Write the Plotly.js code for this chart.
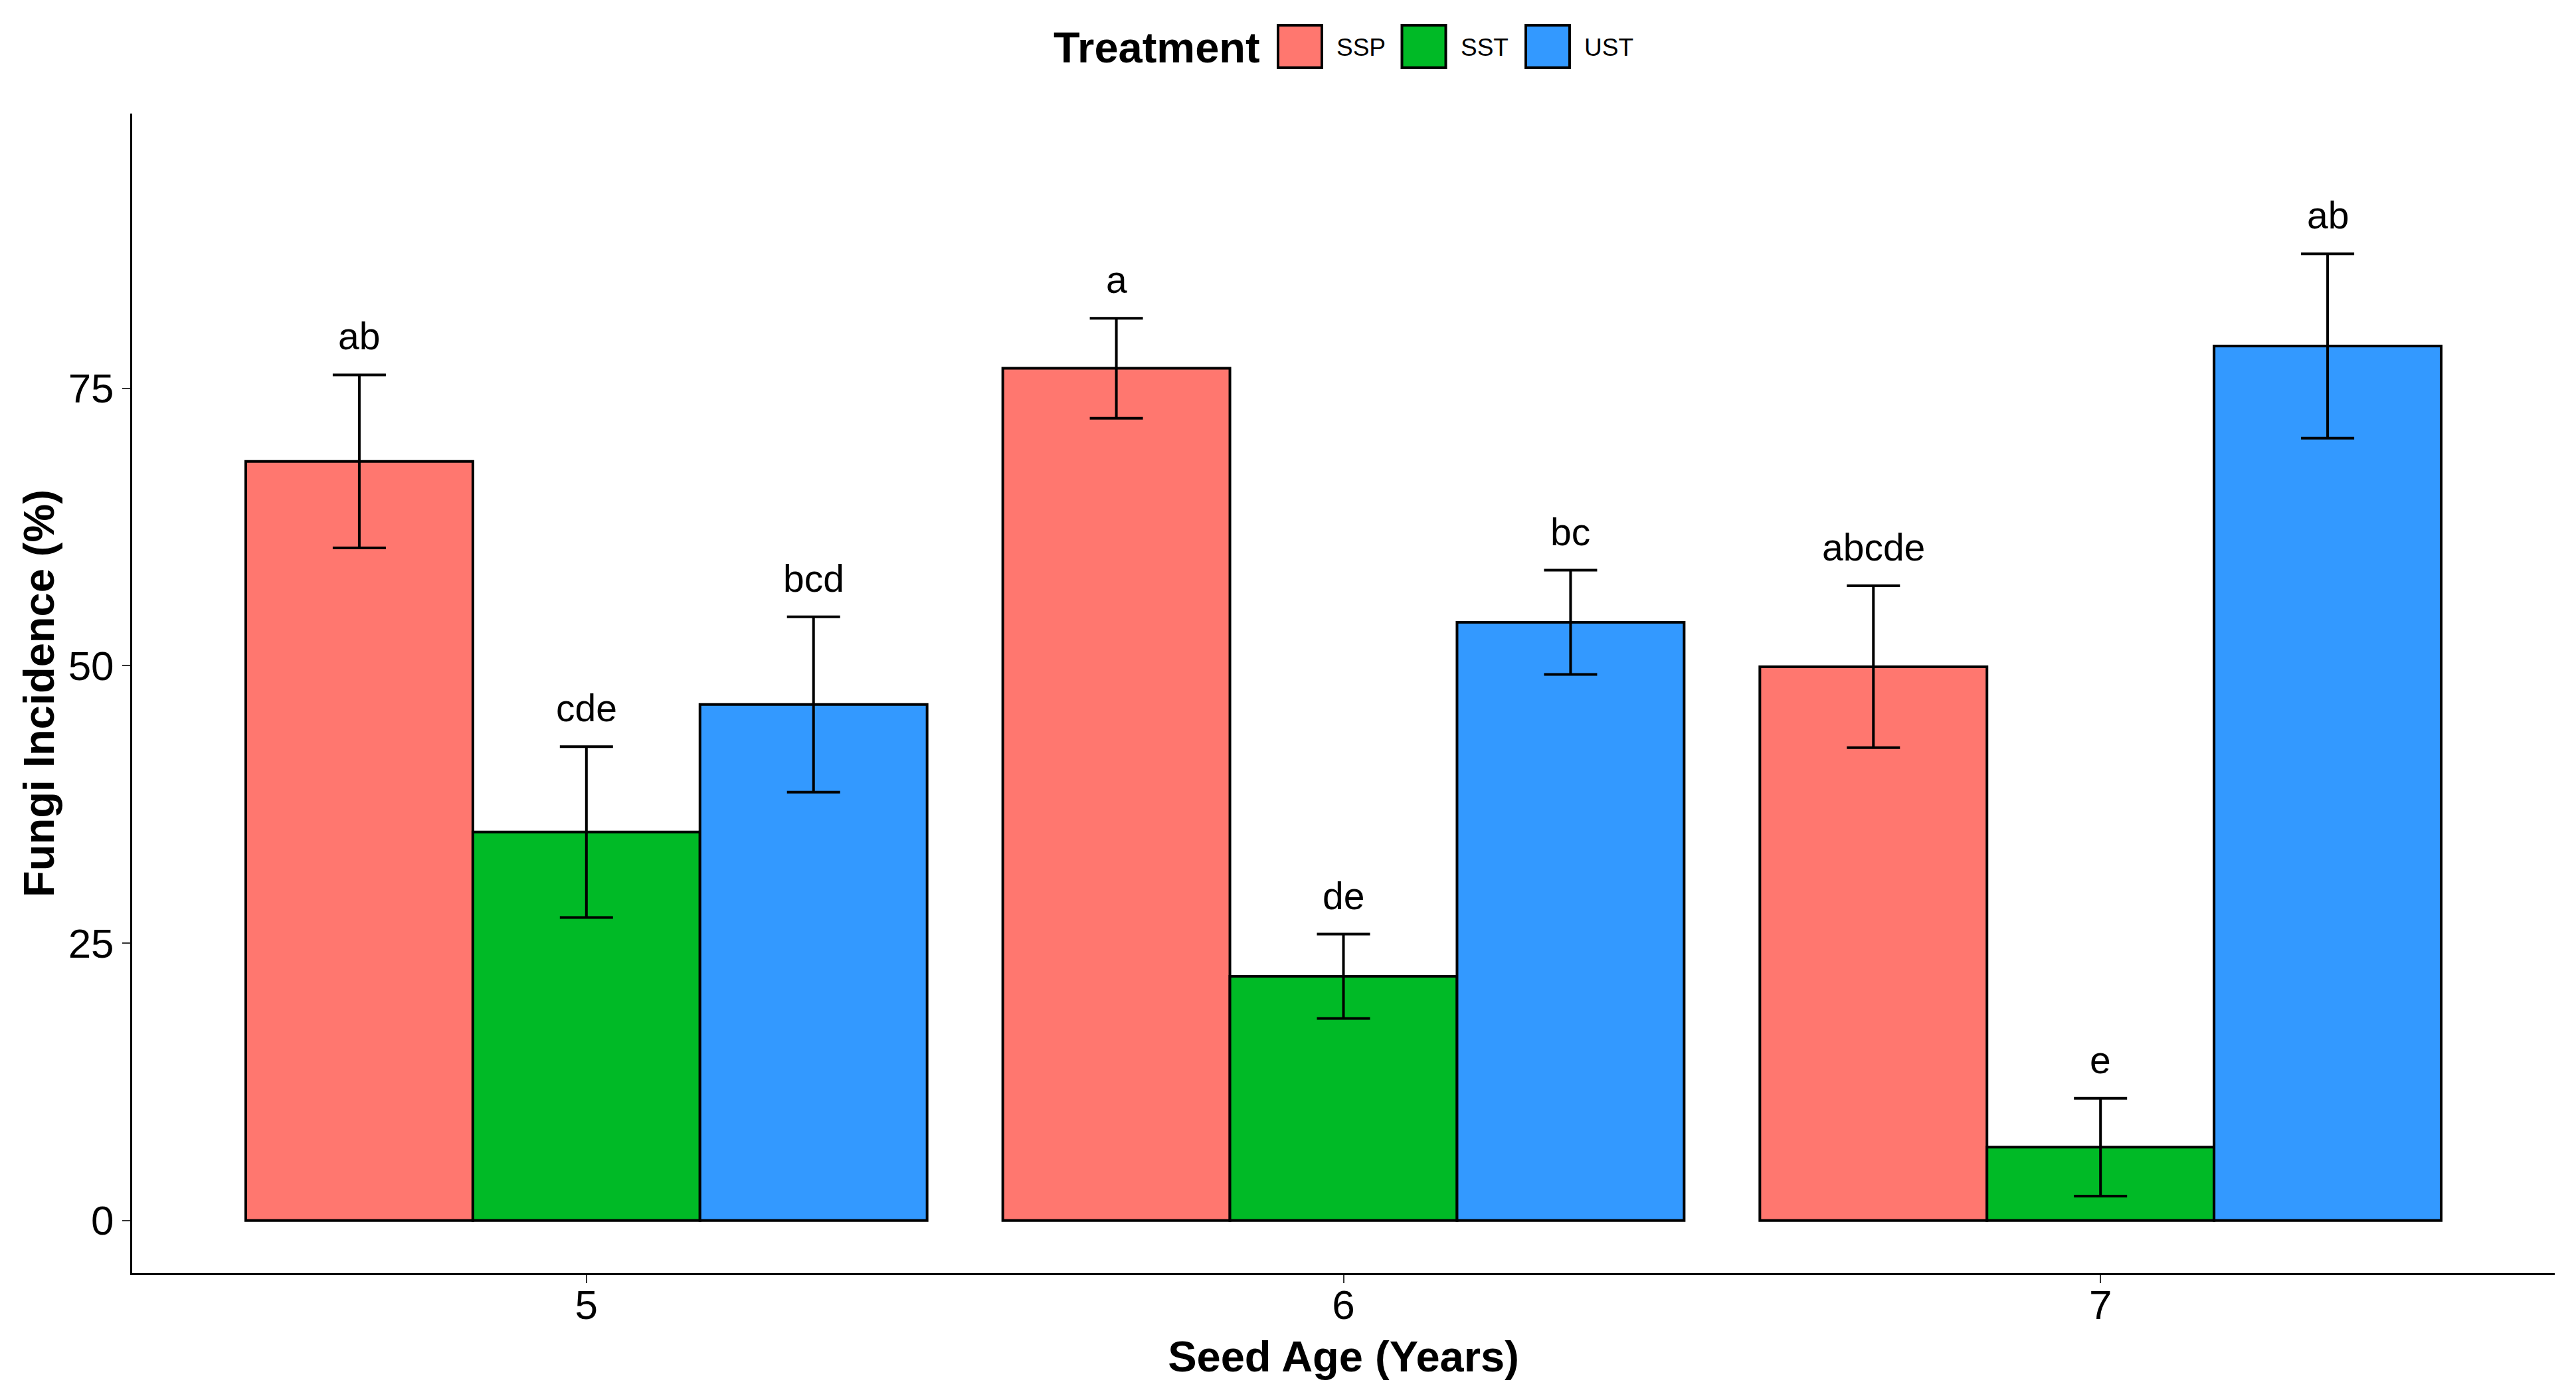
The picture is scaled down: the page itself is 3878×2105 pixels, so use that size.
<!DOCTYPE html>
<html>
<head>
<meta charset="utf-8">
<script src="https://cdn.plot.ly/plotly-3.0.1.min.js"></script>
<style>html,body{margin:0;padding:0;background:#fff;}#chart{width:3878px;height:2105px;}</style>
</head>
<body>
<div id="chart"></div>
<script>
// ---- data ----
const ages = [5, 6, 7];
const treatments = ["SSP", "SST", "UST"];
const sspMean = [68.4, 76.8, 49.9];
const sspSE   = [7.8, 4.5, 7.3];
const sstMean = [35.0, 22.0, 6.6];
const sstSE   = [7.7, 3.8, 4.4];
const ustMean = [46.5, 53.9, 78.8];
const ustSE   = [7.9, 4.7, 8.3];
const sspLetters = ["ab", "a", "abcde"];
const sstLetters = ["cde", "de", "e"];
const ustLetters = ["bcd", "bc", "ab"];

// ---- style ----
const colors = ["#FF776F", "#00BA26", "#3399FF"];
const FONT = "Liberation Sans, Arial, sans-serif";
const W = 3878, H = 2105;
const M = {l: 199, r: 32, t: 171, b: 188};
const barW = 0.3;
const offsets = [-0.3, 0, 0.3];

const means = [sspMean, sstMean, ustMean];
const ses = [sspSE, sstSE, ustSE];
const letters = [sspLetters, sstLetters, ustLetters];

const traces = [];
const annotations = [];
treatments.forEach((name, i) => {
  const xs = ages.map(a => a + offsets[i]);
  traces.push({
    type: "bar",
    name: name,
    x: xs,
    y: means[i],
    width: ages.map(() => barW),
    marker: {color: colors[i], line: {color: "#000", width: 4}},
    error_y: {type: "data", array: ses[i], visible: true, color: "#000", thickness: 4, width: 40},
    showlegend: false,
    hoverinfo: "x+y"
  });
  xs.forEach((x, j) => {
    annotations.push({
      x: x, y: means[i][j] + ses[i][j], xref: "x", yref: "y",
      text: letters[i][j], showarrow: false,
      xanchor: "center", yanchor: "bottom", yshift: 24,
      font: {family: FONT, size: 57, color: "#000"}
    });
  });
});

// custom legend (pixel positions converted to paper)
const pw = W - M.l - M.r, ph = H - M.t - M.b;
const px2x = p => (p - M.l) / pw;
const py2y = p => (H - M.b - p) / ph;
annotations.push({
  x: px2x(1899), y: py2y(72), xref: "paper", yref: "paper",
  text: "Treatment", showarrow: false, xanchor: "right", yanchor: "middle",
  font: {family: FONT, size: 65, color: "#000", weight: "bold"}
});
const shapes = [];
treatments.forEach((name, i) => {
  const x0 = 1924 + 186.5 * i;
  shapes.push({
    type: "rect", xref: "paper", yref: "paper",
    x0: px2x(x0), x1: px2x(x0 + 66), y0: py2y(102), y1: py2y(38),
    fillcolor: colors[i], line: {color: "#000", width: 4}
  });
  annotations.push({
    x: px2x(x0 + 86), y: py2y(72), xref: "paper", yref: "paper",
    text: name, showarrow: false, xanchor: "left", yanchor: "middle",
    font: {family: FONT, size: 37, color: "#000"}
  });
});

const layout = {
  width: W, height: H,
  margin: M,
  paper_bgcolor: "#fff", plot_bgcolor: "#fff",
  barmode: "overlay",
  showlegend: false,
  font: {family: FONT, color: "#000"},
  xaxis: {
    range: [4.4, 7.6],
    tickvals: ages, ticktext: ages.map(String),
    showgrid: false, zeroline: false,
    showline: true, linecolor: "#000", linewidth: 3,
    ticks: "outside", ticklen: 12, tickwidth: 2, tickcolor: "#333",
    ticklabelstandoff: -20,
    tickfont: {family: FONT, size: 62, color: "#000"},
    title: {text: "Seed Age (Years)", font: {family: FONT, size: 65, color: "#000", weight: "bold"}, standoff: 22}
  },
  yaxis: {
    range: [-4.75, 99.75],
    tickvals: [0, 25, 50, 75],
    showgrid: false, zeroline: false,
    showline: true, linecolor: "#000", linewidth: 3,
    ticks: "outside", ticklen: 12, tickwidth: 2, tickcolor: "#333",
    tickfont: {family: FONT, size: 62, color: "#000"},
    title: {text: "Fungi Incidence (%)", font: {family: FONT, size: 65, color: "#000", weight: "bold"}, standoff: 0}
  },
  annotations: annotations,
  shapes: shapes
};

Plotly.newPlot("chart", traces, layout, {staticPlot: true, displayModeBar: false});
</script>
</body>
</html>
